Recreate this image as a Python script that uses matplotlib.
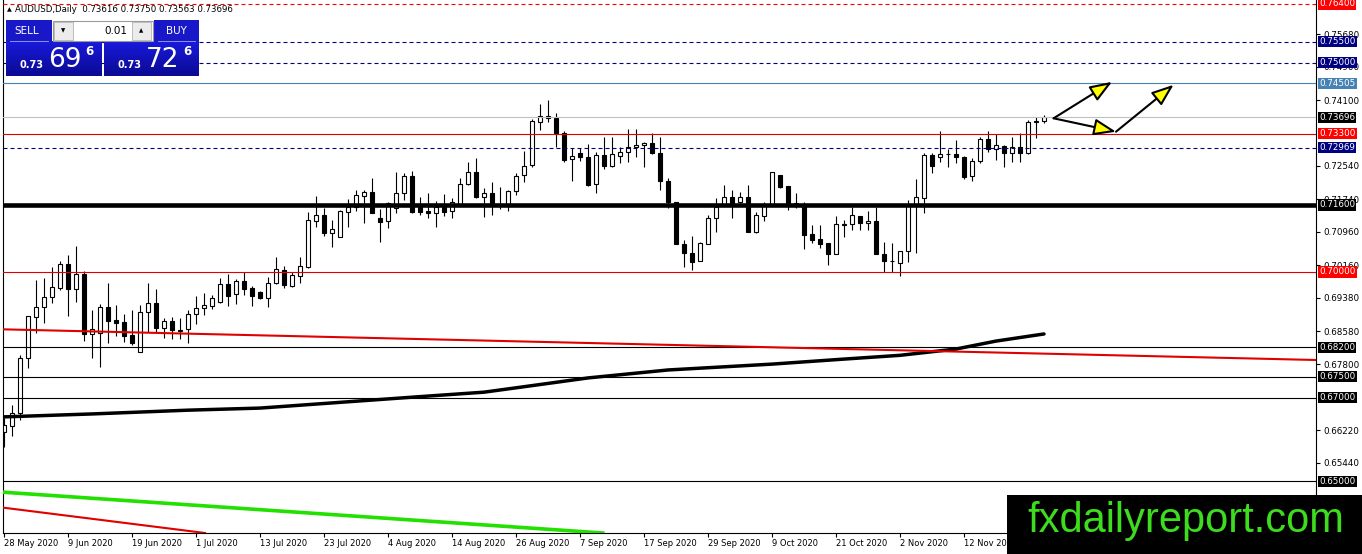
import numpy as np
import matplotlib.pyplot as plt
from matplotlib.patches import Rectangle, FancyArrowPatch

# AUDUSD daily candles, first bar = 28 May 2020
opens = [0.6618, 0.6632, 0.6663, 0.6795, 0.6893, 0.6916, 0.6940, 0.6962, 0.7019, 0.6959,
         0.6995, 0.6852, 0.6854, 0.6916, 0.6885, 0.6880, 0.6850, 0.6809, 0.6905, 0.6926,
         0.6866, 0.6883, 0.6862, 0.6864, 0.6900, 0.6914, 0.6919, 0.6928, 0.6971, 0.6948,
         0.6978, 0.6962, 0.6952, 0.6938, 0.6974, 0.7005, 0.6967, 0.6990, 0.7012, 0.7122,
         0.7136, 0.7093, 0.7083, 0.7143, 0.7155, 0.7181, 0.7191, 0.7129, 0.7122, 0.7153,
         0.7189, 0.7229, 0.7158, 0.7146, 0.7141, 0.7158, 0.7146, 0.7160, 0.7210, 0.7239,
         0.7179, 0.7189, 0.7160, 0.7160, 0.7194, 0.7232, 0.7255, 0.7358, 0.7372, 0.7367,
         0.7332, 0.7270, 0.7284, 0.7274, 0.7210, 0.7279, 0.7253, 0.7277, 0.7287, 0.7298,
         0.7303, 0.7308, 0.7284, 0.7217, 0.7167, 0.7066, 0.7045, 0.7026, 0.7066, 0.7129,
         0.7160, 0.7179, 0.7167, 0.7179, 0.7095, 0.7134, 0.7162, 0.7232, 0.7205, 0.7160,
         0.7160, 0.7091, 0.7079, 0.7069, 0.7043, 0.7112, 0.7115, 0.7134, 0.7117, 0.7122,
         0.7043, 0.7026, 0.7021, 0.7050, 0.7160, 0.7177, 0.7279, 0.7274, 0.7282, 0.7282,
         0.7274, 0.7229, 0.7265, 0.7317, 0.7294, 0.7301, 0.7284, 0.7298, 0.7284, 0.7358,
         0.73616]
highs = [0.6651, 0.6682, 0.6802, 0.6895, 0.6981, 0.6986, 0.7012, 0.7026, 0.7041, 0.7062,
         0.7002, 0.6909, 0.6924, 0.6974, 0.6921, 0.6900, 0.6909, 0.6921, 0.6974, 0.6959,
         0.6890, 0.6893, 0.6890, 0.6909, 0.6943, 0.6950, 0.6945, 0.6986, 0.6995, 0.6983,
         0.7000, 0.6967, 0.6955, 0.6988, 0.7036, 0.7014, 0.7000, 0.7036, 0.7143, 0.7181,
         0.7153, 0.7124, 0.7148, 0.7174, 0.7196, 0.7196, 0.7224, 0.7150, 0.7167, 0.7239,
         0.7236, 0.7241, 0.7179, 0.7189, 0.7170, 0.7186, 0.7177, 0.7224, 0.7263, 0.7272,
         0.7201, 0.7215, 0.7203, 0.7196, 0.7236, 0.7289, 0.7365, 0.7401, 0.7411, 0.7380,
         0.7336, 0.7296, 0.7296, 0.7306, 0.7287, 0.7322, 0.7322, 0.7298, 0.7341, 0.7341,
         0.7310, 0.7332, 0.7322, 0.7224, 0.7167, 0.7076, 0.7086, 0.7071, 0.7136, 0.7177,
         0.7208, 0.7196, 0.7191, 0.7208, 0.7143, 0.7167, 0.7239, 0.7232, 0.7205, 0.7189,
         0.7167, 0.7112, 0.7112, 0.7069, 0.7134, 0.7124, 0.7155, 0.7134, 0.7146, 0.7155,
         0.7071, 0.7069, 0.7050, 0.7172, 0.7222, 0.7284, 0.7284, 0.7336, 0.7293, 0.7315,
         0.7277, 0.7272, 0.7322, 0.7336, 0.7329, 0.7303, 0.7322, 0.7332, 0.7363, 0.7370,
         0.73750]
lows = [0.6582, 0.6608, 0.6647, 0.6771, 0.6854, 0.6878, 0.6926, 0.6957, 0.6895, 0.6928,
        0.6835, 0.6795, 0.6773, 0.6830, 0.6847, 0.6833, 0.6826, 0.6809, 0.6857, 0.6857,
        0.6842, 0.6840, 0.6840, 0.6830, 0.6876, 0.6897, 0.6912, 0.6926, 0.6919, 0.6924,
        0.6945, 0.6919, 0.6935, 0.6916, 0.6971, 0.6962, 0.6964, 0.6974, 0.7010, 0.7107,
        0.7086, 0.7060, 0.7083, 0.7107, 0.7146, 0.7117, 0.7141, 0.7071, 0.7105, 0.7141,
        0.7172, 0.7141, 0.7136, 0.7129, 0.7107, 0.7134, 0.7129, 0.7160, 0.7208, 0.7177,
        0.7131, 0.7136, 0.7150, 0.7146, 0.7184, 0.7215, 0.7251, 0.7339, 0.7358, 0.7298,
        0.7262, 0.7217, 0.7265, 0.7205, 0.7189, 0.7246, 0.7251, 0.7260, 0.7263, 0.7275,
        0.7251, 0.7282, 0.7196, 0.7153, 0.7066, 0.7012, 0.7005, 0.7026, 0.7066, 0.7095,
        0.7160, 0.7129, 0.7165, 0.7095, 0.7093, 0.7122, 0.7162, 0.7201, 0.7148, 0.7153,
        0.7055, 0.7069, 0.7057, 0.7017, 0.7043, 0.7083, 0.7100, 0.7100, 0.7100, 0.7043,
        0.7000, 0.7000, 0.6990, 0.7024, 0.7045, 0.7141, 0.7236, 0.7263, 0.7251, 0.7260,
        0.7222, 0.7217, 0.7260, 0.7287, 0.7267, 0.7251, 0.7263, 0.7263, 0.7282, 0.7320,
        0.73563]
closes = [0.6635, 0.6663, 0.6795, 0.6895, 0.6916, 0.6940, 0.6964, 0.7019, 0.6959, 0.6995,
          0.6852, 0.6864, 0.6916, 0.6883, 0.6878, 0.6847, 0.6830, 0.6905, 0.6926, 0.6866,
          0.6883, 0.6862, 0.6859, 0.6900, 0.6914, 0.6921, 0.6938, 0.6971, 0.6943, 0.6978,
          0.6959, 0.6943, 0.6938, 0.6974, 0.7007, 0.6969, 0.6993, 0.7014, 0.7124, 0.7136,
          0.7093, 0.7103, 0.7146, 0.7155, 0.7184, 0.7191, 0.7141, 0.7119, 0.7165, 0.7189,
          0.7229, 0.7143, 0.7143, 0.7141, 0.7155, 0.7143, 0.7167, 0.7210, 0.7239, 0.7179,
          0.7189, 0.7160, 0.7161, 0.7194, 0.7229, 0.7253, 0.7361, 0.7372, 0.7367, 0.7332,
          0.7267, 0.7277, 0.7274, 0.7208, 0.7279, 0.7253, 0.7282, 0.7287, 0.7298, 0.7303,
          0.7308, 0.7284, 0.7217, 0.7167, 0.7066, 0.7045, 0.7024, 0.7069, 0.7129, 0.7155,
          0.7179, 0.7160, 0.7179, 0.7095, 0.7136, 0.7160, 0.7239, 0.7203, 0.7160, 0.7165,
          0.7088, 0.7076, 0.7066, 0.7043, 0.7115, 0.7115, 0.7136, 0.7117, 0.7122, 0.7043,
          0.7026, 0.7027, 0.7050, 0.7160, 0.7179, 0.7279, 0.7253, 0.7282, 0.7281, 0.7274,
          0.7227, 0.7265, 0.7317, 0.7294, 0.7303, 0.7284, 0.7298, 0.7284, 0.7358, 0.7361,
          0.73696]

# moving average read at a few bars
ma_bars = [0, 11, 23, 32, 51, 60, 65, 73, 83, 96, 105, 112, 119, 124, 130]
ma_vals = [0.6654, 0.6661, 0.6670, 0.6675, 0.6701, 0.6713, 0.6726, 0.6747, 0.6766,
           0.6780, 0.6792, 0.6801, 0.6816, 0.6835, 0.6852]

# trend lines, two anchor points each (bar, price)
red_trend = [(0, 0.6863), (130, 0.6805)]
green_trend = [(0, 0.6474), (60, 0.6396)]
red_low_trend = [(0, 0.6437), (20, 0.6389)]

# horizontal levels
levels = [0.76400, 0.75500, 0.75000, 0.74505, 0.73696, 0.73300, 0.72969,
          0.71600, 0.70000, 0.68200, 0.67500, 0.67000, 0.65000]

# arrows drawn on the chart (bar, price)
arrows = [((131.2, 0.7367), (138.5, 0.7454)),
          ((131.2, 0.7367), (139.0, 0.7335)),
          ((139.0, 0.7335), (146.2, 0.7447))]

# plain scale labels (0.73320 and 0.67000 sit under level labels)
price_ticks = [0.75680, 0.74900, 0.74100, 0.72540, 0.71740, 0.70960,
               0.70160, 0.69380, 0.68580, 0.67800, 0.66220, 0.65440]
date_bars = [0, 8, 16, 24, 32, 40, 48, 56, 64, 72, 80, 88, 96, 104, 112, 120]
date_labels = ['28 May 2020', '9 Jun 2020', '19 Jun 2020', '1 Jul 2020', '13 Jul 2020',
               '23 Jul 2020', '4 Aug 2020', '14 Aug 2020', '26 Aug 2020', '7 Sep 2020',
               '17 Sep 2020', '29 Sep 2020', '9 Oct 2020', '21 Oct 2020', '2 Nov 2020',
               '12 Nov 2020']

W, H = 1362, 554
plt.rcParams['font.family'] = 'DejaVu Sans'
fig = plt.figure(figsize=(W / 100, H / 100), dpi=100)
ax = fig.add_axes([3 / W, 21 / H, 1313 / W, 533 / H])

# candles
o, hi, lo, c = map(np.array, (opens, highs, lows, closes))
idx = np.arange(len(o))
up = c >= o
body = np.maximum(np.abs(c - o), 0.00002)
ax.vlines(idx, lo, hi, color='black', lw=0.8, zorder=2)
ax.bar(idx[up], body[up], bottom=o[up], width=0.6, color='white',
       edgecolor='black', lw=0.8, zorder=2.2)
ax.bar(idx[~up], body[~up], bottom=c[~up], width=0.6, color='black',
       edgecolor='black', lw=0.8, zorder=2.2)

# level lines + labels on the price scale
dash = (0, (3.6, 2.7))
line_style = [('#ff0000', dash, 0.8), ('#000080', dash, 0.8), ('#000080', dash, 0.8),
              ('#4682b4', '-', 0.8), ('#c0c0c0', '-', 0.8), ('#e00000', '-', 0.8),
              ('#000080', dash, 0.8), ('black', '-', 3.3), ('#e00000', '-', 0.8),
              ('black', '-', 0.8), ('black', '-', 0.8), ('black', '-', 0.8),
              ('black', '-', 0.8)]
label_bg = ['#ff0000', '#000080', '#000080', '#4682b4', 'black', '#ff0000', '#000080',
            'black', '#ff0000', 'black', 'black', 'black', 'black']
ytr = ax.get_yaxis_transform()
for lev, (col, ls, lw), bg in zip(levels, line_style, label_bg):
    ax.axhline(lev, color=col, linestyle=ls, lw=lw, zorder=3)
    ax.text(1.0025, lev, f'{lev:.5f}', transform=ytr, fontsize=6.3, color='white',
            va='center', ha='left', zorder=4,
            bbox=dict(boxstyle='square,pad=0.12', fc=bg, ec='none'))

# moving average and trend lines
ax.plot(ma_bars, ma_vals, color='black', lw=2.5, zorder=3, solid_capstyle='round')
ax.axline(*red_trend, color='#e00000', lw=1.5, zorder=3)
ax.axline(*green_trend, color='#22e000', lw=2.6, zorder=3)
ax.axline(*red_low_trend, color='#e00000', lw=1.5, zorder=3)

for start, end in arrows:
    ax.add_patch(FancyArrowPatch(start, end, arrowstyle='-|>,head_length=0.45,head_width=0.17',
                                 mutation_scale=30, lw=1.5, fc='#ffff00', ec='black',
                                 shrinkA=0, shrinkB=0, zorder=5))

ax.set_xlim(-0.125, 164)
ax.set_ylim(0.63767, 0.76495)
ax.yaxis.tick_right()
ax.set_yticks(price_ticks)
ax.set_yticklabels([f'{t:.5f}' for t in price_ticks])
ax.tick_params(axis='y', labelsize=6.3, length=3, width=0.8, pad=2, colors='black')
ax.set_xticks(date_bars)
ax.set_xticklabels(date_labels, ha='left')
ax.tick_params(axis='x', labelsize=6, length=3, width=0.8, pad=1.5)
ax.spines['top'].set_visible(False)
for s in ('left', 'right', 'bottom'):
    ax.spines[s].set_linewidth(0.8)

# trade panel in the top-left corner (pixel coordinates)
pax = fig.add_axes([0, 1 - 80 / H, 210 / W, 80 / H])
pax.axis('off')
pax.text(7, 10, '\u25b2', fontsize=4.5, va='center')
pax.text(15, 10, 'AUDUSD,Daily  0.73616 0.73750 0.73563 0.73696', fontsize=6.2, va='center')
grad = np.linspace([0.10, 0.10, 0.86], [0.04, 0.04, 0.58], 30)[:, None, :]
for x0, x1 in ((6, 102), (104, 199)):
    pax.imshow(grad, extent=(x0, x1, 76, 42), aspect='auto', zorder=1)
for x0, w in ((6, 46), (154, 45)):
    pax.add_patch(Rectangle((x0, 20), w, 22, fc='#1818c8', ec='none', zorder=1))
    pax.plot([x0 + 4, x0 + w - 4], [41.3, 41.3], color='#9090e8', lw=0.7, zorder=2)
pax.add_patch(Rectangle((53, 21), 100, 20, fc='white', ec='#9a9a9a', lw=0.8, zorder=1))
for bx, sym in ((54, '\u25bc'), (132, '\u25b2')):
    pax.add_patch(Rectangle((bx, 22), 19, 18, fc='#ececec', ec='#b4b4b4', lw=0.6, zorder=2))
    pax.text(bx + 9.5, 31, sym, fontsize=4, ha='center', va='center', zorder=3)
pax.text(127, 31, '0.01', fontsize=7.5, ha='right', va='center', zorder=3)
pax.text(27, 31, 'SELL', fontsize=7.5, color='white', ha='center', va='center', zorder=3)
pax.text(176, 31, 'BUY', fontsize=7.5, color='white', ha='center', va='center', zorder=3)
for x0 in (6, 104):
    big = '69' if x0 == 6 else '72'
    pax.text(x0 + 14, 65, '0.73', fontsize=7, fontweight='bold', color='white',
             va='center', zorder=3)
    pax.text(x0 + 42, 60, big, fontsize=19, color='white', va='center', zorder=3)
    pax.text(x0 + 79, 51, '6', fontsize=8.5, fontweight='bold', color='white',
             va='center', zorder=3)
pax.set_xlim(0, 210)
pax.set_ylim(80, 0)

# watermark
fig.add_artist(Rectangle((1007 / W, 0), (W - 1007) / W, 59 / H, transform=fig.transFigure,
                         fc='black', ec='none', zorder=5))
fig.text((1022 + 1349) / 2 / W, 1 - 521 / H, 'fxdailyreport.com', color='#3ddc1e',
         fontsize=30, family='Liberation Sans', ha='center', va='center', zorder=6)

fig.savefig('out.png', dpi=100)
